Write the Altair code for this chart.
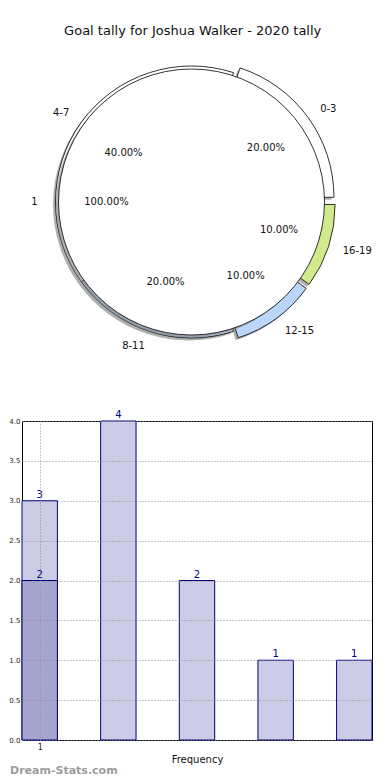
import math
import numpy as np
import pandas as pd
import altair as alt

# ---------------- data ----------------
chart_title = "Goal tally for Joshua Walker - 2020 tally"

ring_labels = ["0-3", "4-7", "8-11", "12-15", "16-19"]
ring_pct = [20, 40, 20, 10, 10]

inner_labels = ["1"]
inner_pct = [100]

bar_pos = [1, 2, 3, 4, 5]
bar_counts = [3, 4, 2, 1, 1]

overlay_pos = [1]
overlay_counts = [2]

y_ticks = [0.0, 0.5, 1.0, 1.5, 2.0, 2.5, 3.0, 3.5, 4.0]
x_ticks = [1]

# ---------------- styles ----------------
ring_colors = ["#ffffff", "#ffffff", "#c3d9fa", "#b9d6fc", "#d2ea8e"]
explode_px = {"0-3": 8, "4-7": 0, "8-11": 0, "12-15": 8, "16-19": 8}
CX, CY = 169.5, 158.0      # pie centre inside the pie view (px)
R_OUT, R_IN = 136, 133
SH_X, SH_Y = -2.5, 2.5      # shadow offset
PIE_W, PIE_H = 350, 353
BAR_W, BAR_H = 350, 319
HALF = 0.225


def pie_frame(labels, pct, explode):
    tot = float(sum(pct))
    cum = np.concatenate([[0.0], np.cumsum(pct)]) / tot
    t0 = math.pi / 2 - 2 * math.pi * cum[:-1]
    t1 = math.pi / 2 - 2 * math.pi * cum[1:]
    mid = (t0 + t1) / 2
    e = np.array([explode.get(l, 0) for l in labels], dtype=float)
    df = pd.DataFrame({
        "label": labels,
        "pct": pct,
        "t0": t0,
        "t1": t1,
        "mid": mid,
        "px": CX + e * np.sin(mid),
        "py": CY - e * np.cos(mid),
        "pct_text": [f"{p / tot * 100:.2f}%" for p in pct],
    })
    df["sx"] = df["px"] + SH_X
    df["sy"] = df["py"] + SH_Y
    return df


ring_df = pie_frame(ring_labels, ring_pct, explode_px)
inner_df = pie_frame(inner_labels, inner_pct, {})

pos_x = alt.X("px:Q", scale=None, axis=None)
pos_y = alt.Y("py:Q", scale=None, axis=None)
sh_x = alt.X("sx:Q", scale=None, axis=None)
sh_y = alt.Y("sy:Q", scale=None, axis=None)
th = alt.Theta("t0:Q", scale=None)
th2 = alt.Theta2("t1:Q")
th_mid = alt.Theta("mid:Q", scale=None)

ring_base = alt.Chart(ring_df)
inner_base = alt.Chart(inner_df)

ring_shadow = ring_base.mark_arc(radius=R_OUT, fill="#7a7a7a", opacity=0.6).encode(
    x=sh_x, y=sh_y, theta=th, theta2=th2)
ring = ring_base.mark_arc(radius=R_OUT, stroke="black", strokeWidth=0.8).encode(
    x=pos_x, y=pos_y, theta=th, theta2=th2,
    fill=alt.Color("label:N", scale=alt.Scale(domain=ring_labels, range=ring_colors), legend=None))
inner_shadow = inner_base.mark_arc(radius=R_IN, fill="#7a7a7a", opacity=0.6).encode(
    x=sh_x, y=sh_y, theta=th, theta2=th2)
inner = inner_base.mark_arc(radius=R_IN, fill="white", stroke="black", strokeWidth=0.8).encode(
    x=pos_x, y=pos_y, theta=th, theta2=th2)

txt = dict(fontSize=10, color="#111111", baseline="middle")
ring_pct_text = ring_base.mark_text(radius=84, align="center", **txt).encode(
    x=pos_x, y=pos_y, theta=th_mid, text="pct_text:N")
ring_lab_r = ring_base.transform_filter("sin(datum.mid) > 0").mark_text(
    radius=151, align="left", **txt).encode(x=pos_x, y=pos_y, theta=th_mid, text="label:N")
ring_lab_l = ring_base.transform_filter("sin(datum.mid) <= 0").mark_text(
    radius=151, align="right", **txt).encode(x=pos_x, y=pos_y, theta=th_mid, text="label:N")
inner_pct_text = inner_base.mark_text(radius=85, align="center", **txt).encode(
    x=pos_x, y=pos_y, theta=th_mid, text="pct_text:N")
inner_lab = inner_base.mark_text(radius=154, align="right", **txt).encode(
    x=pos_x, y=pos_y, theta=th_mid, text="label:N")

pie = alt.layer(ring_shadow, ring, inner_shadow, inner,
                ring_pct_text, ring_lab_r, ring_lab_l, inner_pct_text, inner_lab
                ).properties(width=PIE_W, height=PIE_H)

# ---------------- bar chart ----------------
bars_df = pd.DataFrame({"pos": bar_pos, "count": bar_counts})
over_df = pd.DataFrame({"pos": overlay_pos, "count": overlay_counts})

xscale = alt.Scale(domain=[1 - HALF, 5 + HALF], nice=False, zero=False)
yscale = alt.Scale(domain=[0, 4], nice=False)

x_axis = alt.Axis(values=x_ticks, format="d", title="Frequency", grid=True, gridDash=[1, 2],
                  gridColor="#8f8f8f", gridWidth=1, domain=False, ticks=False,
                  labelFontSize=8, labelPadding=3, labelColor="#222222",
                  titleFontSize=10, titleFontWeight="normal", titlePadding=3,
                  titleColor="#111111", zindex=1)
y_axis = alt.Axis(values=y_ticks, format=".1f", title=None, grid=True, gridDash=[1, 2],
                  gridColor="#8f8f8f", gridWidth=1, domain=False, ticks=False,
                  labelOverlap=False, labelFontSize=7, labelPadding=2,
                  labelColor="#222222", zindex=1)


def rects(df, fill):
    return alt.Chart(df).transform_calculate(
        x0=f"datum.pos - {HALF}", x1=f"datum.pos + {HALF}", base="0"
    ).mark_rect(fill=fill, stroke="#000080", strokeWidth=1).encode(
        x=alt.X("x0:Q", scale=xscale, axis=x_axis, title="Frequency"),
        x2="x1:Q",
        y=alt.Y("count:Q", scale=yscale, axis=y_axis, title=None),
        y2="base:Q",
    )


def labels(df):
    return alt.Chart(df).mark_text(baseline="bottom", dy=-1, fontSize=10, color="#000080").encode(
        x=alt.X("pos:Q", scale=xscale, axis=x_axis, title="Frequency"),
        y=alt.Y("count:Q", scale=yscale, axis=y_axis, title=None),
        text="count:Q",
    )


watermark = alt.Chart(pd.DataFrame({"t": ["Dream-Stats.com"]})).mark_text(
    align="left", baseline="middle", fontSize=11, fontWeight="bold", color="#9c9c9c"
).encode(x=alt.value(-12), y=alt.value(350), text="t:N")

bar_chart = alt.layer(rects(bars_df, "#cccce6"), rects(over_df, "#a5a5d0"),
                      labels(bars_df), labels(over_df), watermark
                      ).properties(width=BAR_W, height=BAR_H,
                                   view=alt.ViewBackground(stroke="black", strokeWidth=1))

chart = alt.vconcat(pie, bar_chart, spacing=12).properties(
    padding={"top": 17, "left": 0, "right": 0, "bottom": 0},
    title=alt.TitleParams(chart_title, fontSize=13, fontWeight="normal", anchor="middle",
                          font="DejaVu Sans", color="#111111", offset=6, dx=2),
).configure(font="DejaVu Sans").configure_view(stroke=None)

chart.save("out.html", embed_options={"renderer": "svg", "actions": False})
